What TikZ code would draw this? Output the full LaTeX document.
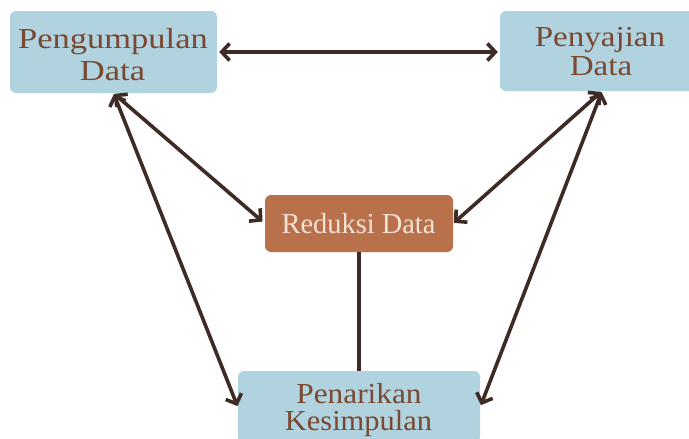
\documentclass[tikz,border=0pt]{standalone}
\usepackage{fontspec}
\usepackage{graphicx}
\setmainfont{Liberation Serif}
\usetikzlibrary{arrows.meta}
\definecolor{boxblue}{HTML}{B0D3DF}
\definecolor{boxrust}{HTML}{B8714A}
\definecolor{txtbrown}{HTML}{7A4830}
\definecolor{txtcream}{HTML}{F3E3D6}
\definecolor{arrdark}{HTML}{3F2B26}
\newcommand{\hstretch}[2]{\scalebox{#1}[1]{#2}}
\tikzset{
  bluebox/.style={fill=boxblue, rounded corners=6pt, draw=none, inner sep=0pt},
  rustbox/.style={fill=boxrust, rounded corners=6pt, draw=none, inner sep=0pt},
  lbl/.style={anchor=base, inner sep=0pt, text=txtbrown, font=\fontsize{29}{32}\selectfont},
  lblc/.style={anchor=base, inner sep=0pt, text=txtcream, font=\fontsize{29}{32}\selectfont},
  arr/.style={draw=arrdark, line width=3.6pt, line cap=round, line join=round,
    {Straight Barb[length=8pt,width=17pt,line width=3.6pt]}-{Straight Barb[length=8pt,width=17pt,line width=3.6pt]}},
  plainline/.style={draw=arrdark, line width=3.6pt}
}
\begin{document}
\begin{tikzpicture}[x=1pt,y=-1pt]
\clip (0,0) rectangle (689,439);
\useasboundingbox (0,0) rectangle (689,439);
% boxes
\node[bluebox, minimum width=207pt, minimum height=82pt] (b1) at (113.5,52) {};
\node[bluebox, minimum width=204pt, minimum height=80pt] (b2) at (602,51) {};
\node[rustbox, minimum width=188pt, minimum height=57pt] (red) at (359,223.5) {};
\node[bluebox, minimum width=242pt, minimum height=72pt] (pen) at (359,407) {};
% labels
\node[lbl] (t1a) at (113,48) {\hstretch{1.19}{Pengumpulan}};
\node[lbl] (t1b) at (112.5,80) {\hstretch{1.19}{Data}};
\node[lbl] (t2a) at (600,46) {\hstretch{1.14}{Penyajian}};
\node[lbl] (t2b) at (601,75) {\hstretch{1.14}{Data}};
\node[lblc] (t3) at (358.5,233) {\hstretch{0.98}{Reduksi Data}};
\node[lbl] (t4a) at (359,403) {\hstretch{1.08}{Penarikan}};
\node[lbl] (t4b) at (358.5,430) {\hstretch{1.05}{Kesimpulan}};
% connectors
\draw[arr, shorten <=2pt, shorten >=2pt] (b1.east) -- (b1.east -| b2.west);
\draw[arr, shorten <=1pt, shorten >=3pt] (b1.south) -- (red.west);
\draw[arr, shorten <=1pt, shorten >=1pt] (b1.south) -- (pen.west);
\draw[arr, shorten <=1pt, shorten >=1pt] (b2.south) -- (red.east);
\draw[arr, shorten <=1pt, shorten >=2pt] (b2.south) -- (pen.east);
\draw[plainline] (red.south) -- (pen.north);
\end{tikzpicture}
\end{document}
